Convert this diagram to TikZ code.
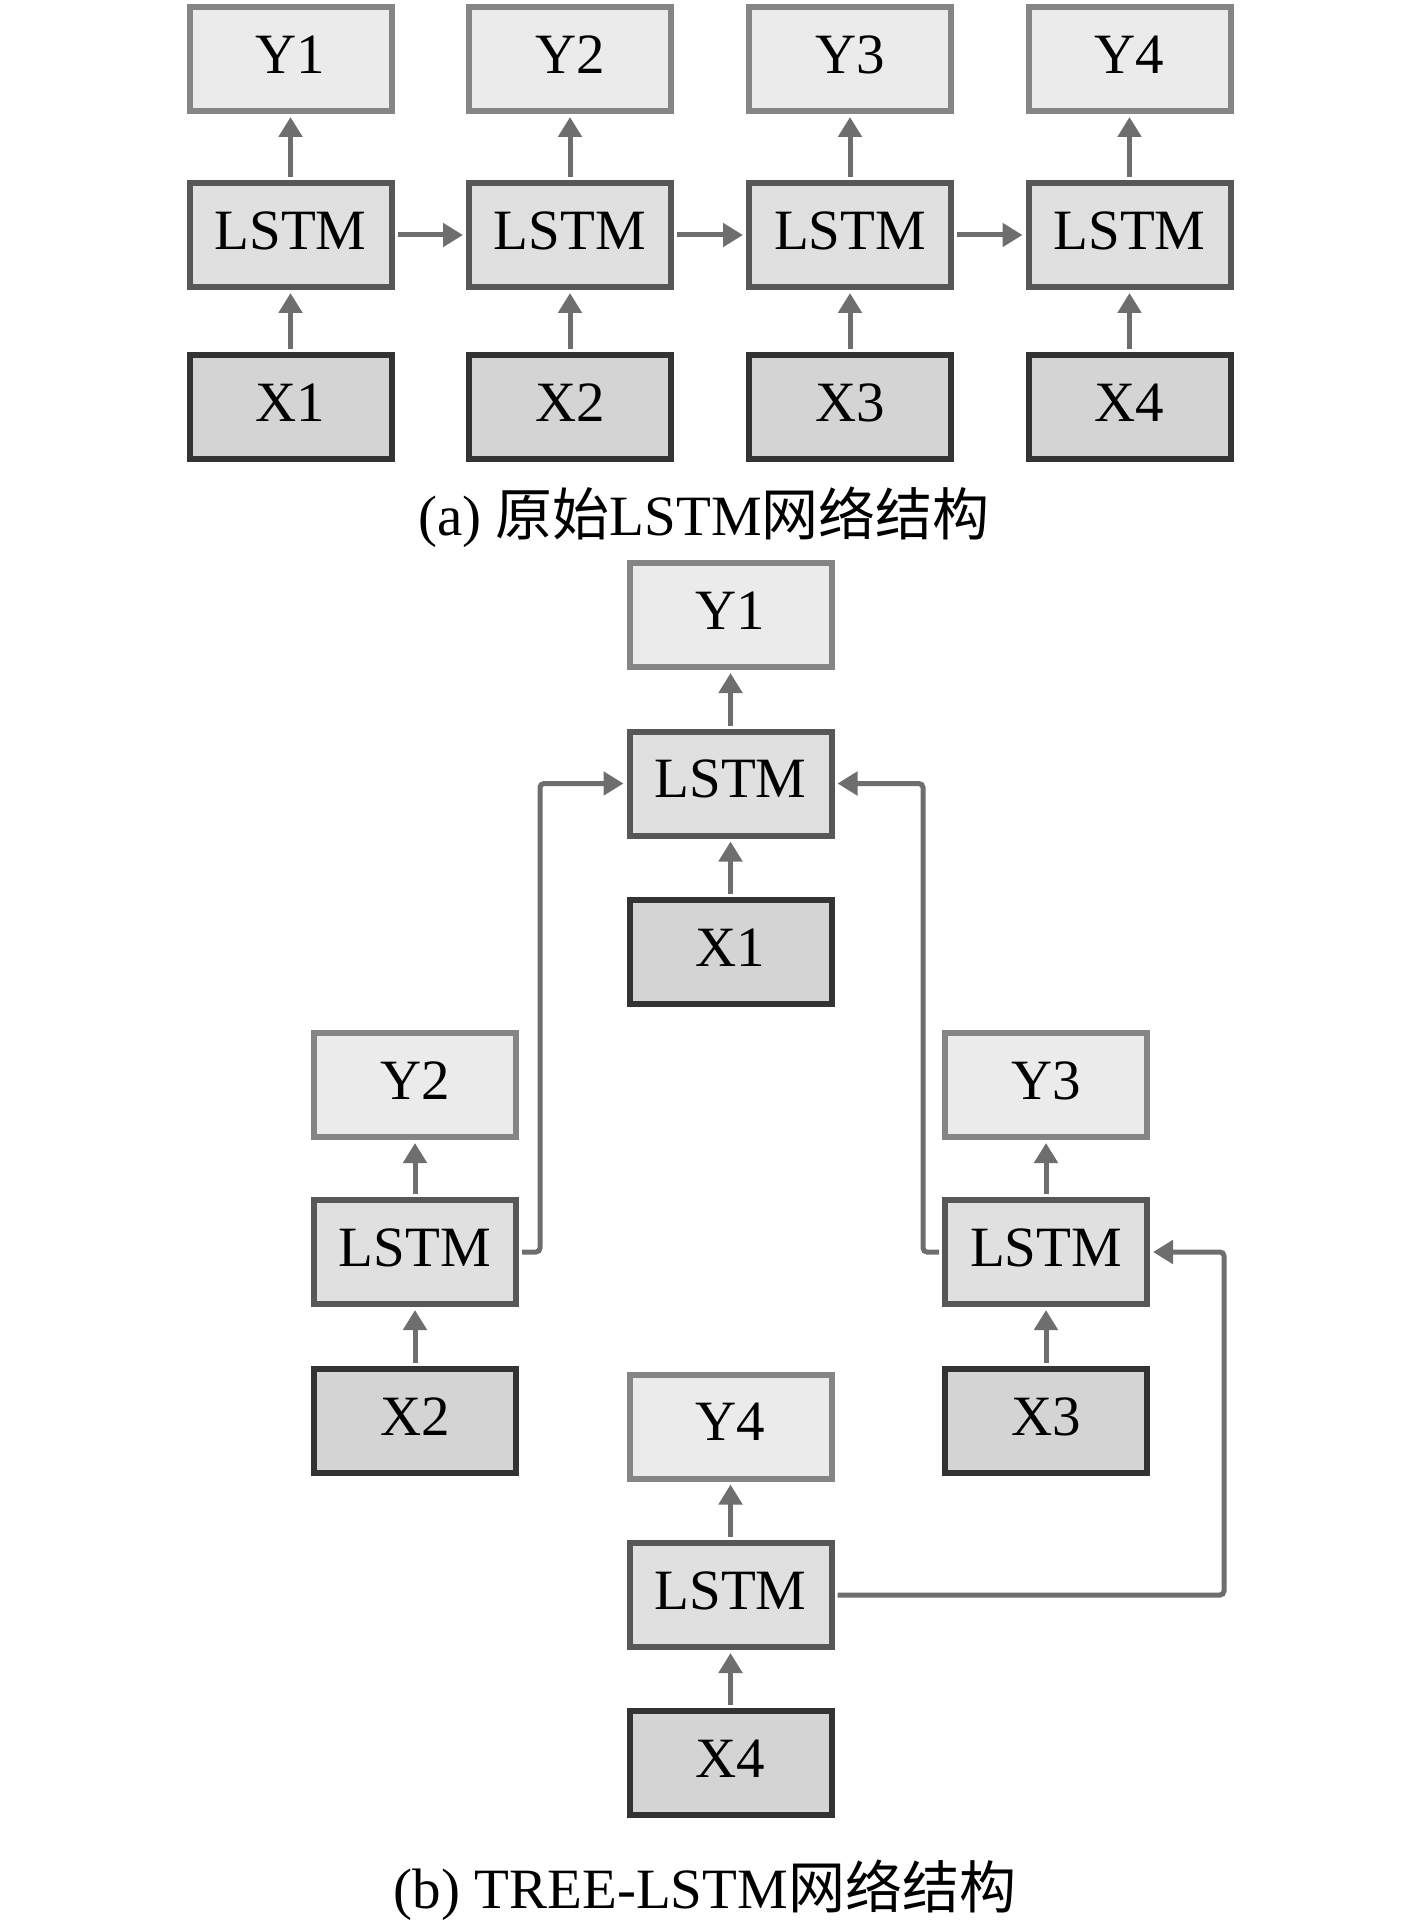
\documentclass[tikz,border=0pt]{standalone}
\usepackage{fontspec}
\setmainfont{Liberation Serif}
\newfontfamily\cjk{Noto Sans CJK SC}
\usetikzlibrary{arrows.meta,shadows}
\definecolor{ydraw}{HTML}{858585}
\definecolor{yfill}{HTML}{EBEBEB}
\definecolor{ldraw}{HTML}{575757}
\definecolor{lfill}{HTML}{E0E0E0}
\definecolor{xdraw}{HTML}{333333}
\definecolor{xfill}{HTML}{D4D4D4}
\definecolor{arrc}{HTML}{6E6E6E}
\tikzset{
  basebox/.style={rectangle, line width=3pt, minimum width=101pt, minimum height=52pt, inner sep=0pt,
    text height=19pt, text depth=4.6pt,
    font=\fontsize{28.5pt}{32pt}\selectfont,
    drop shadow={shadow xshift=0.6pt, shadow yshift=-1.6pt, opacity=0.18, fill=black}},
  ybox/.style={basebox, draw=ydraw, fill=yfill},
  lbox/.style={basebox, draw=ldraw, fill=lfill},
  xbox/.style={basebox, draw=xdraw, fill=xfill},
  arr/.style={draw=arrc, line width=2.5pt, rounded corners=2pt, shorten >=1.5pt, shorten <=1.5pt,
    -{Triangle[width=11.5pt,length=10pt]}},
  capt/.style={font=\fontsize{28.5pt}{32pt}\selectfont, inner sep=0pt}
}
\begin{document}
\begin{tikzpicture}[x=0.5pt, y=-0.5pt]
\useasboundingbox (0,0) rectangle (1417,1925);
% ---------- (a) ----------
\foreach \i/\cx in {1/290.5, 2/570, 3/850, 4/1129.5}{
  \node[ybox] (aY\i) at (\cx,59) {Y\i};
  \node[lbox] (aL\i) at (\cx,235) {LSTM};
  \node[xbox] (aX\i) at (\cx,407) {X\i};
}
\foreach \i in {1,2,3,4}{
  \draw[arr] (aX\i.north) -- (aL\i.south);
  \draw[arr] (aL\i.north) -- (aY\i.south);
}
\draw[arr] (aL1.east) -- (aL2.west);
\draw[arr] (aL2.east) -- (aL3.west);
\draw[arr] (aL3.east) -- (aL4.west);
\node[capt] (capa) at (704,517) {(a) {\cjk 原始}LSTM{\cjk 网络结构}};
% ---------- (b) ----------
\node[ybox] (Y1) at (730.5,615) {Y1};
\node[lbox] (L1) at (730.5,783.5) {LSTM};
\node[xbox] (X1) at (730.5,952) {X1};
\node[ybox] (Y2) at (415,1085) {Y2};
\node[lbox] (L2) at (415,1252) {LSTM};
\node[xbox] (X2) at (415,1421) {X2};
\node[ybox] (Y3) at (1046,1085) {Y3};
\node[lbox] (L3) at (1046,1252) {LSTM};
\node[xbox] (X3) at (1046,1421) {X3};
\node[ybox] (Y4) at (730.5,1426.5) {Y4};
\node[lbox] (L4) at (730.5,1595) {LSTM};
\node[xbox] (X4) at (730.5,1763) {X4};
\foreach \i in {1,2,3,4}{
  \draw[arr] (X\i.north) -- (L\i.south);
  \draw[arr] (L\i.north) -- (Y\i.south);
}
\coordinate (cl) at (540,0);
\coordinate (cr) at (923,0);
\coordinate (cf) at (1224,0);
\draw[arr] (L2.east) -- (L2.east -| cl) -- (cl |- L1.west) -- (L1.west);
\draw[arr] (L3.west) -- (L3.west -| cr) -- (cr |- L1.east) -- (L1.east);
\draw[arr] (L4.east) -- (L4.east -| cf) -- (cf |- L3.east) -- (L3.east);
\node[capt] (capb) at (705,1890) {(b) TREE-LSTM{\cjk 网络结构}};
\end{tikzpicture}
\end{document}
